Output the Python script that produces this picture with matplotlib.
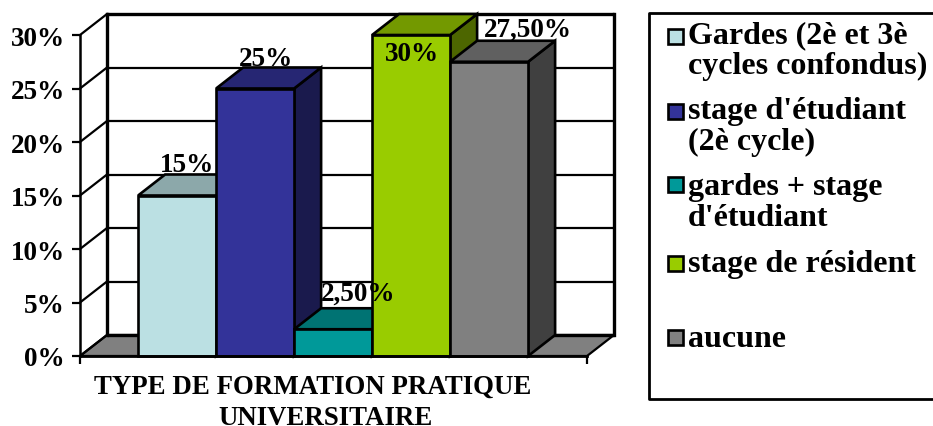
import matplotlib
matplotlib.use('Agg')
import matplotlib.pyplot as plt
from matplotlib.patches import Polygon, Rectangle

plt.rcParams['font.family'] = ['Liberation Serif', 'DejaVu Serif']
plt.rcParams['font.weight'] = 'bold'

# data
names = ['Gardes (2è et 3è\ncycles confondus)', "stage d'étudiant\n(2è cycle)",
         "gardes + stage\nd'étudiant", 'stage de résident', 'aucune']
values = [15, 25, 2.5, 30, 27.5]
value_labels = ['15%', '25%', '2,50%', '30%', '27,50%']
yticks = [0, 5, 10, 15, 20, 25, 30]

# front, top and side colours of each bar
front_colors = ['#BBE0E3', '#333399', '#009999', '#99CC00', '#808080']
top_colors = ['#8CA8AA', '#262673', '#007373', '#739900', '#606060']
side_colors = ['#5E7072', '#1A1A4D', '#004D4D', '#4D6600', '#404040']

# label shift from bar centre (pixels x, baseline above bar top y)
label_dx = [10, 11, 25, 1, 39]
label_dy = [25, 24, 30, -25, 26]

# legend layout, figure pixels
key_y = [37, 112, 185, 264, 338]
text_y = [43, 119, 195, 272, 347]

fig = plt.figure(figsize=(9.33, 4.27), dpi=100)

# overlay in pixel coordinates for the legend box and the axis title
over = fig.add_axes([0, 0, 1, 1], zorder=0)
over.set_xlim(0, 933)
over.set_ylim(427, 0)
over.axis('off')

ax = fig.add_axes([80 / 933, (427 - 357) / 427, 507 / 933, 321 / 427], zorder=1)
ax.patch.set_alpha(0)
ax.set_xlim(0, 6.5)
ax.set_ylim(0, 30)

px_x = 6.5 / 507
px_y = 30 / 321
dx = 27 * px_x
dy = 21 * px_y
x_end = 6.5
bar_w = 1.0
bar_start = 0.745

# floor
ax.add_patch(Polygon([(0, 0), (dx, dy), (x_end + dx, dy), (x_end, 0)], closed=True,
                     facecolor='#808080', edgecolor='black', lw=1.6, clip_on=False, zorder=1))

# walls and gridlines
for y in yticks:
    lw = 2.4 if y == 30 or y == 0 else 1.6
    ax.plot([dx, x_end + dx], [y + dy, y + dy], color='black', lw=lw,
            clip_on=False, zorder=2, solid_capstyle='butt')
    ax.plot([0, dx], [y, y + dy], color='black', lw=1.6, clip_on=False, zorder=2)
ax.plot([dx, dx], [dy, 30 + dy], color='black', lw=2.4, clip_on=False, zorder=2)
ax.plot([x_end + dx, x_end + dx], [dy, 30 + dy], color='black', lw=2.4, clip_on=False, zorder=2)

# bars
for i, v in enumerate(values):
    x0 = bar_start + i * bar_w
    x1 = x0 + bar_w
    z = 3 + i
    ax.add_patch(Polygon([(x1, 0), (x1 + dx, dy), (x1 + dx, v + dy), (x1, v)], closed=True,
                         facecolor=side_colors[i], edgecolor='black', lw=1.9,
                         clip_on=False, zorder=z))
    ax.add_patch(Polygon([(x0, v), (x0 + dx, v + dy), (x1 + dx, v + dy), (x1, v)], closed=True,
                         facecolor=top_colors[i], edgecolor='black', lw=1.9,
                         clip_on=False, zorder=z))
    ax.add_patch(Rectangle((x0, 0), bar_w, v, facecolor=front_colors[i], edgecolor='black',
                           lw=1.9, clip_on=False, zorder=z))

for i, v in enumerate(values):
    xc = bar_start + (i + 0.5) * bar_w
    ax.text(xc + label_dx[i] * px_x, v + label_dy[i] * px_y, value_labels[i], fontsize=19.5,
            ha='center', va='baseline', color='black', zorder=10, clip_on=False)

# axis lines and ticks
for s in ['top', 'right']:
    ax.spines[s].set_visible(False)
ax.spines['left'].set_linewidth(1.8)
ax.spines['left'].set_zorder(9)
ax.spines['bottom'].set_linewidth(2.0)
ax.spines['bottom'].set_zorder(9)
ax.set_yticks(yticks)
ax.set_yticklabels([f'{y}%' for y in yticks], fontsize=19.5)
ax.set_xticks([0, x_end])
ax.set_xticklabels([])
ax.tick_params(axis='y', length=6, width=1.6, pad=5)
ax.tick_params(axis='x', length=6, width=1.6)

# axis title
over.text(312.5, 394, 'TYPE DE FORMATION PRATIQUE', fontsize=19.4, ha='center', va='baseline')
over.text(326, 425, 'UNIVERSITAIRE', fontsize=19.4, ha='center', va='baseline')

# legend box runs off the right edge
over.plot([940, 649, 649, 940], [13.5, 13.5, 400, 400], color='black', lw=2.0)
for i, name in enumerate(names):
    over.add_patch(Rectangle((667.5, key_y[i] - 7.5), 15, 15, facecolor=front_colors[i],
                             edgecolor='black', lw=1.9))
    for j, line in enumerate(name.split('\n')):
        over.text(688, text_y[i] + j * 31, line, fontsize=23, ha='left', va='baseline')

fig.savefig('out.png', dpi=100)
